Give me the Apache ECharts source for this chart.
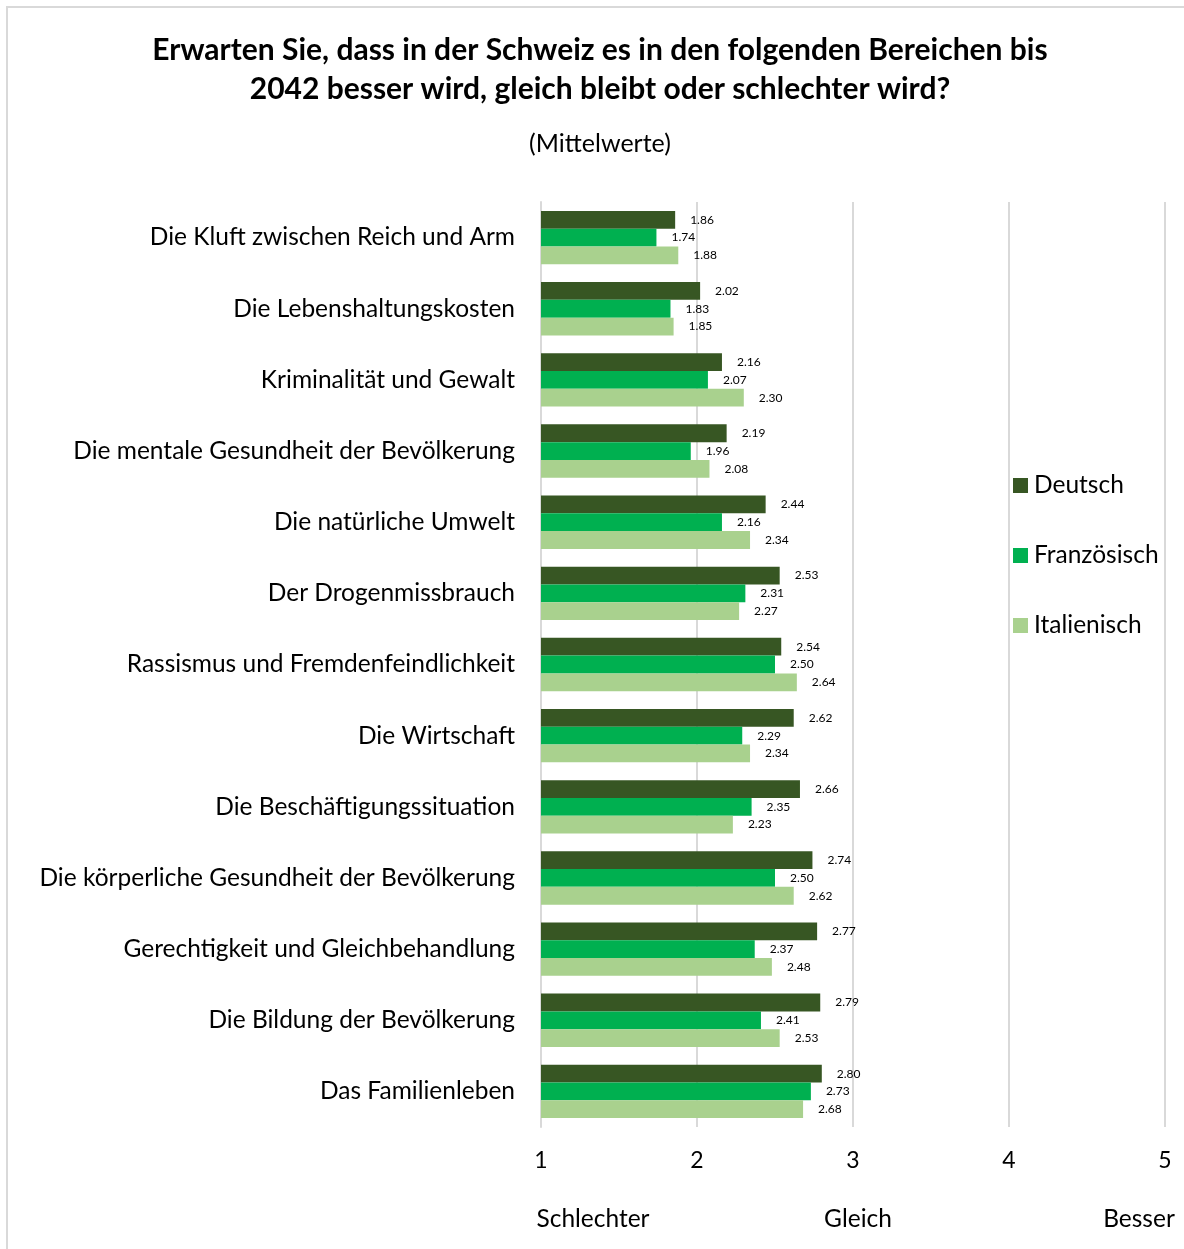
<!DOCTYPE html>
<html>
<head>
<meta charset="utf-8">
<script src="https://cdn.jsdelivr.net/npm/echarts@6/dist/echarts.min.js"></script>
<style>
html,body{margin:0;padding:0;background:#fff;}
#chart{width:1184px;height:1249px;}
</style>
</head>
<body>
<div id="chart"></div>
<script>
const categories = [
  "Die Kluft zwischen Reich und Arm",
  "Die Lebenshaltungskosten",
  "Kriminalität und Gewalt",
  "Die mentale Gesundheit der Bevölkerung",
  "Die natürliche Umwelt",
  "Der Drogenmissbrauch",
  "Rassismus und Fremdenfeindlichkeit",
  "Die Wirtschaft",
  "Die Beschäftigungssituation",
  "Die körperliche Gesundheit der Bevölkerung",
  "Gerechtigkeit und Gleichbehandlung",
  "Die Bildung der Bevölkerung",
  "Das Familienleben"
];
const deutsch = [1.86, 2.02, 2.16, 2.19, 2.44, 2.53, 2.54, 2.62, 2.66, 2.74, 2.77, 2.79, 2.80];
const franzoesisch = [1.74, 1.83, 2.07, 1.96, 2.16, 2.31, 2.50, 2.29, 2.35, 2.50, 2.37, 2.41, 2.73];
const italienisch = [1.88, 1.85, 2.30, 2.08, 2.34, 2.27, 2.64, 2.34, 2.23, 2.62, 2.48, 2.53, 2.68];
const seriesNames = ["Deutsch", "Französisch", "Italienisch"];
const scaleLabels = ["Schlechter", "Gleich", "Besser"];

const FONT = "Lato";
const chart = echarts.init(document.getElementById('chart'), null, {renderer: 'canvas'});

function mkSeries(name, data, color) {
  return {
    name: name,
    type: 'bar',
    data: data,
    barGap: '0%',
    barCategoryGap: '25%',
    itemStyle: {color: color},
    label: {
      show: true,
      position: 'right',
      distance: 15,
      fontFamily: FONT,
      fontSize: 12,
      color: '#000',
      formatter: p => p.value.toFixed(2)
    },
    emphasis: {disabled: true}
  };
}

chart.setOption({
  animation: false,
  backgroundColor: '#fff',
  textStyle: {fontFamily: FONT},
  title: {
    text: "Erwarten Sie, dass in der Schweiz es in den folgenden Bereichen bis\n2042 besser wird, gleich bleibt oder schlechter wird?",
    subtext: "(Mittelwerte)",
    left: 600,
    textAlign: 'center',
    top: 31,
    padding: 0,
    itemGap: 20,
    textStyle: {fontFamily: FONT, fontSize: 30, fontWeight: 'bold', color: '#000', lineHeight: 39},
    subtextStyle: {fontFamily: FONT, fontSize: 25, color: '#000', lineHeight: 30}
  },
  legend: {
    orient: 'vertical',
    left: 1013,
    top: 473,
    padding: 0,
    itemWidth: 15,
    itemHeight: 15,
    itemGap: 45,
    icon: 'rect',
    data: seriesNames,
    textStyle: {fontFamily: FONT, fontSize: 24.5, lineHeight: 25, color: '#000', padding: [0, 0, 0, 1]}
  },
  grid: {left: 541, right: 19, top: 202, bottom: 122, containLabel: false},
  xAxis: {
    type: 'value',
    min: 1, max: 5, interval: 1,
    axisLine: {show: false},
    axisTick: {show: false},
    splitLine: {show: true, lineStyle: {color: '#d9d9d9', width: 2}},
    axisLabel: {fontFamily: FONT, fontSize: 23, color: '#000', margin: 22}
  },
  yAxis: {
    type: 'category',
    data: categories,
    inverse: true,
    axisLine: {show: true, lineStyle: {color: '#d9d9d9', width: 2}},
    axisTick: {show: false},
    axisLabel: {fontFamily: FONT, fontSize: 24.5, color: '#000', margin: 26}
  },
  series: [
    mkSeries(seriesNames[0], deutsch, '#375623'),
    mkSeries(seriesNames[1], franzoesisch, '#00B050'),
    mkSeries(seriesNames[2], italienisch, '#A9D18E')
  ],
  graphic: [
    {type: 'rect', shape: {x: 7, y: 7, width: 1200, height: 1260}, style: {fill: 'none', stroke: '#d9d9d9', lineWidth: 2}, silent: true, z: -10},
    {type: 'text', x: 593, y: 1219, style: {text: scaleLabels[0], font: '24.5px ' + FONT, fill: '#000', align: 'center', verticalAlign: 'middle'}},
    {type: 'text', x: 858, y: 1219, style: {text: scaleLabels[1], font: '24.5px ' + FONT, fill: '#000', align: 'center', verticalAlign: 'middle'}},
    {type: 'text', x: 1139, y: 1219, style: {text: scaleLabels[2], font: '24.5px ' + FONT, fill: '#000', align: 'center', verticalAlign: 'middle'}}
  ]
});
</script>
</body>
</html>
